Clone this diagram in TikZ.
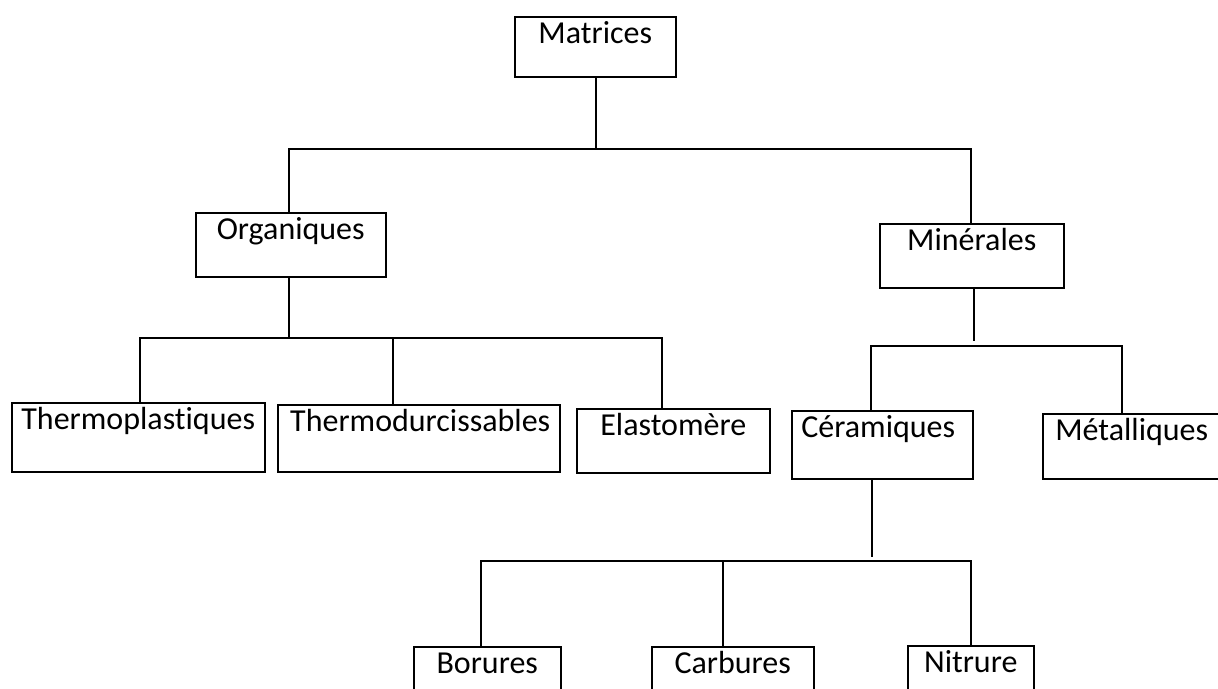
\documentclass[tikz,border=0pt]{standalone}
\usepackage{fontspec}
\setmainfont{Carlito}[Ligatures=NoCommon]
\begin{document}
\begin{tikzpicture}[x=1pt,y=-1pt,line width=1.5pt,
  box/.style={draw,rectangle,anchor=north west,inner sep=0pt,align=center,
    font=\fontsize{32}{38}\selectfont,text height=27pt},
  conn/.style={draw,line width=1.5pt}]
\clip (0,0) rectangle (1218,688);
\fill[white] (0,0) rectangle (1218,688);
% boxes
\node[box,minimum width=161pt,text depth=33pt] (mat) at (514,16) {Matrices};
\node[box,minimum width=190pt,text depth=37pt] (org) at (195,212) {Organiques};
\node[box,minimum width=184pt,text depth=37pt] (min) at (879,223) {Minérales};
\node[box,minimum width=253pt,text depth=42pt] (thp) at (11,402) {Thermoplastiques};
\node[box,minimum width=282pt,text depth=40pt] (thd) at (277,404) {\hspace*{3pt}Thermodurcissables};
\node[box,minimum width=193pt,text depth=37pt] (ela) at (576,408) {Elastomère};
\node[box,minimum width=181pt,text depth=41pt] (cer) at (791,410) {Céramiques\hspace*{8pt}};
\node[box,minimum width=188pt,text depth=38pt] (met) at (1042,413) {Métalliques\hspace*{10pt}};
\node[box,minimum width=147pt,text depth=60pt] (bor) at (413,646) {Borures};
\node[box,minimum width=162pt,text depth=60pt] (car) at (651,646) {Carbures};
\node[box,minimum width=126pt,text depth=60pt] (nit) at (907,645) {Nitrure};
% bus junctions
\coordinate (b1) at (596,149);
\coordinate (b1l) at (289,149);
\coordinate (b1r) at (971,149);
\coordinate (b2) at (289,338);
\coordinate (b2l) at (140,338);
\coordinate (b2m) at (393,338);
\coordinate (b2r) at (662,338);
\coordinate (b3) at (974,341);
\coordinate (b3l) at (871,346);
\coordinate (b3r) at (1122,346);
\coordinate (b4) at (872,557);
\coordinate (b4l) at (481,561);
\coordinate (b4m) at (723,561);
\coordinate (b4r) at (971,561);
% connectors
\draw[conn] (mat.south -| b1) -- (b1);
\draw[conn] (b1l |- org.north) -- (b1l) -- (b1r) -- (b1r |- min.north);
\draw[conn] (org.south -| b2) -- (b2);
\draw[conn] (b2l |- thp.north) -- (b2l) -- (b2r) -- (b2r |- ela.north);
\draw[conn] (b2m) -- (b2m |- thd.north);
\draw[conn] (min.south -| b3) -- (b3);
\draw[conn] (b3l |- cer.north) -- (b3l) -- (b3r) -- (b3r |- met.north);
\draw[conn] (cer.south -| b4) -- (b4);
\draw[conn] (b4l |- bor.north) -- (b4l) -- (b4r) -- (b4r |- nit.north);
\draw[conn] (b4m) -- (b4m |- car.north);
\end{tikzpicture}
\end{document}
